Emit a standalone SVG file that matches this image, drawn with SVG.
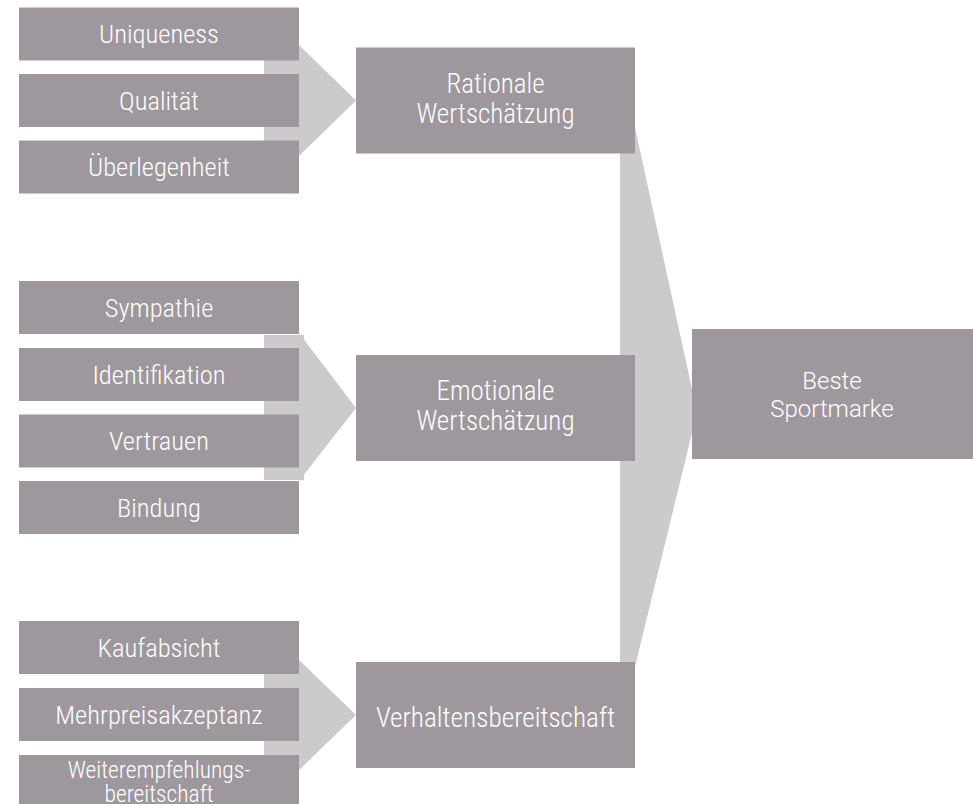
<svg xmlns="http://www.w3.org/2000/svg" width="973" height="804" viewBox="0 0 973 804">
<style>
.box{fill:#9e979d}
.band{fill:#cccacd}
.t{fill:#ffffff;font-family:"Roboto Condensed","Liberation Sans Narrow","DejaVu Sans Condensed",sans-serif;font-weight:300;text-anchor:middle;font-size:26.5px}
.m{font-size:27px}
.s{font-size:23.5px}
.v{font-size:27.3px}
.b{fill:#ffffff;font-family:Roboto,"Liberation Sans",Arial,sans-serif;font-weight:300;text-anchor:middle;font-size:24px}
</style>
<rect width="973" height="804" fill="#ffffff"/>
<g id="connectors">
<rect class="band" x="264" y="50" width="40" height="100"/>
<polygon class="band" points="299,45 356,100.5 299,156"/>
<rect class="band" x="264" y="335" width="40" height="145"/>
<polygon class="band" points="299,333 356,408 299,481"/>
<rect class="band" x="264" y="665" width="40" height="100"/>
<polygon class="band" points="299,660 356,715 299,770"/>
<polygon class="band" points="620,100 629,100 692,389 692,433 622,720 620,720"/>
</g>
<g id="n-uniqueness"><rect class="box" x="19" y="7.5" width="280" height="53"/><text class="t" x="159" y="43">Uniqueness</text></g>
<g id="n-qualitaet"><rect class="box" x="19" y="74" width="280" height="53"/><text class="t" x="159" y="109.5">Qualität</text></g>
<g id="n-ueberlegenheit"><rect class="box" x="19" y="140.5" width="280" height="53"/><text class="t" x="159" y="176">Überlegenheit</text></g>
<g id="n-rational"><rect class="box" x="356" y="47.5" width="279" height="106"/><text class="t m" x="495.5" y="92.5">Rationale</text><text class="t m" x="495.5" y="122.5">Wertschätzung</text></g>
<g id="n-sympathie"><rect class="box" x="19" y="281" width="280" height="53"/><text class="t" x="159" y="316.5">Sympathie</text></g>
<g id="n-identifikation"><rect class="box" x="19" y="348" width="280" height="53"/><text class="t" x="159" y="383.5">Identifikation</text></g>
<g id="n-vertrauen"><rect class="box" x="19" y="414.5" width="280" height="53"/><text class="t" x="159" y="450">Vertrauen</text></g>
<g id="n-bindung"><rect class="box" x="19" y="481" width="280" height="53"/><text class="t" x="159" y="516.5">Bindung</text></g>
<g id="n-emotional"><rect class="box" x="356" y="355" width="279" height="106"/><text class="t m" x="495.5" y="400">Emotionale</text><text class="t m" x="495.5" y="430">Wertschätzung</text></g>
<g id="n-kaufabsicht"><rect class="box" x="19" y="621" width="280" height="53"/><text class="t" x="159" y="656.5">Kaufabsicht</text></g>
<g id="n-mehrpreis"><rect class="box" x="19" y="688" width="280" height="53"/><text class="t" x="159" y="723.5">Mehrpreisakzeptanz</text></g>
<g id="n-weiterempfehlung"><rect class="box" x="19" y="755" width="280" height="53"/><text class="t s" x="159" y="778">Weiterempfehlungs-</text><text class="t s" x="159" y="802">bereitschaft</text></g>
<g id="n-verhalten"><rect class="box" x="356" y="662" width="279" height="106"/><text class="t v" x="495.5" y="727">Verhaltensbereitschaft</text></g>
<g id="n-beste"><rect class="box" x="692" y="329" width="281" height="130"/><text class="b" x="832" y="389">Beste</text><text class="b" x="832" y="417">Sportmarke</text></g>
</svg>
